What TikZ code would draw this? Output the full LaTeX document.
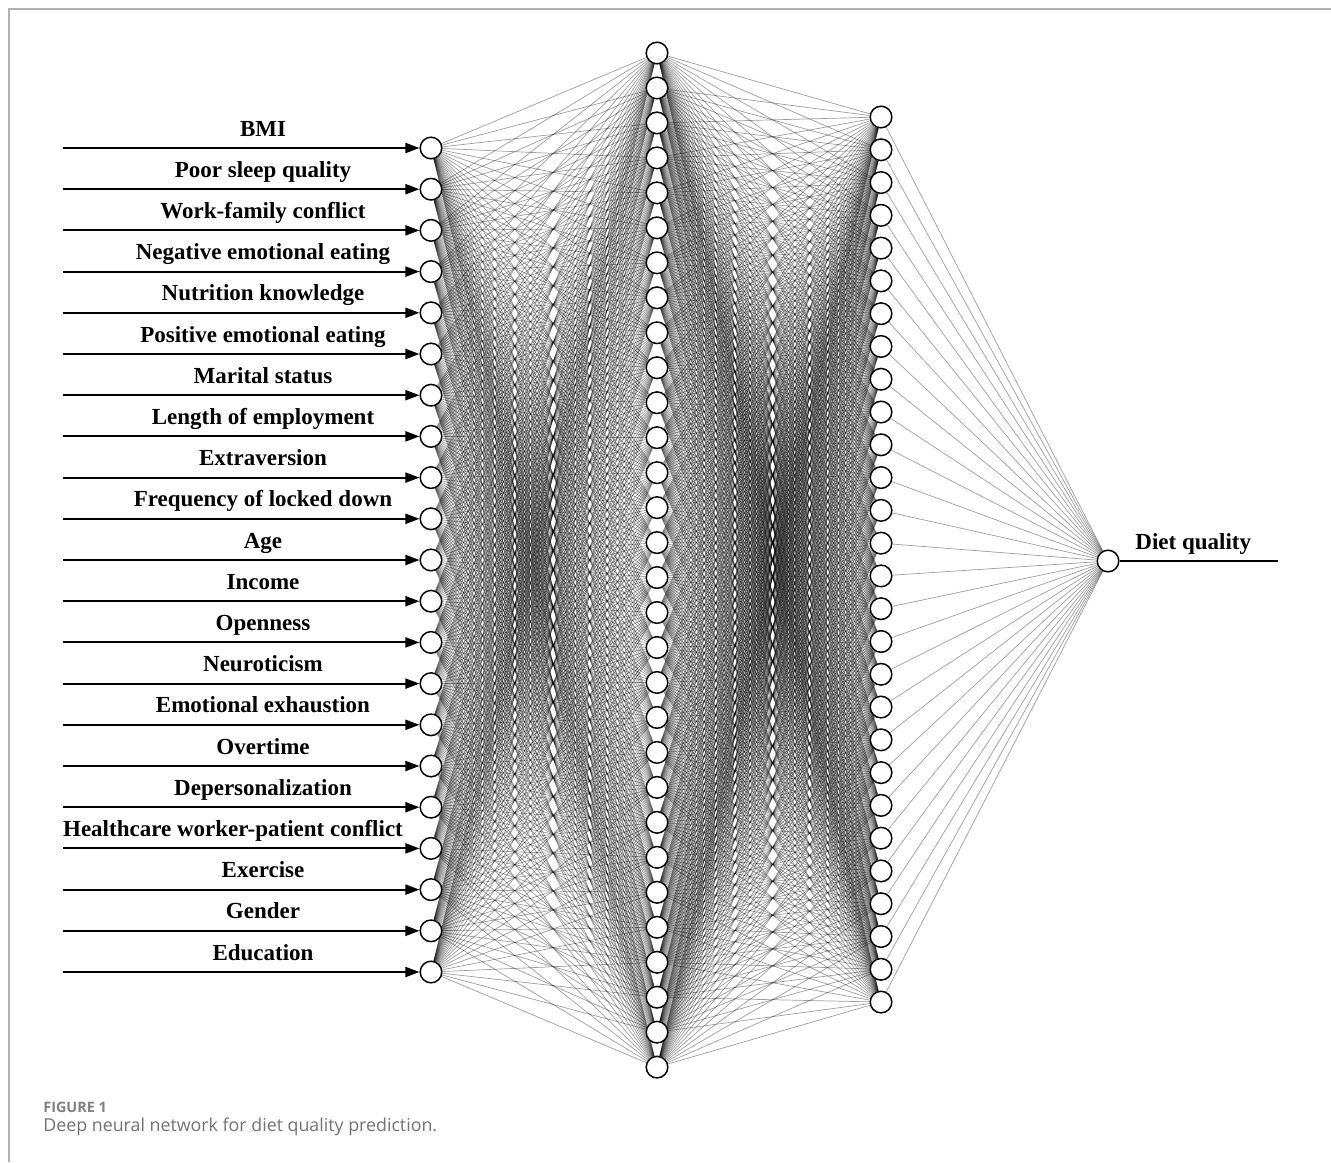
\documentclass[tikz,border=0pt]{standalone}
\usepackage{fontspec}
\setmainfont{Liberation Serif}
\newfontfamily\capfont{Open Sans}
\usetikzlibrary{arrows.meta,backgrounds}

\tikzset{
  unit/.style={circle, draw=black, fill=white, line width=0.75pt, minimum size=10.8pt, inner sep=0pt},
  link/.style={draw=black, line width=0.35pt, opacity=0.38},
  feed/.style={line width=1pt, -{Triangle[length=7pt,width=5pt]}},
  varname/.style={font=\fontsize{11.5}{13}\selectfont\bfseries, anchor=base, inner sep=0pt}
}

\begin{document}
\begin{tikzpicture}[x=0.5pt, y=-0.5pt]
    \useasboundingbox (0,0) rectangle (1331,1162);

    % Frame
    \draw[black!30, line width=1pt] (9,1162) -- (9,9) -- (1331,9);

    % Input layer
    \foreach \n [evaluate=\n as \y using 148+41.2*(\n-1)] in {1,...,21} {
        \node[unit] (i\n) at (431,\y) {};
        \coordinate (s\n) at (63,\y);
    }

    % Hidden layer 1
    \foreach \n [evaluate=\n as \y using 53+34.97*(\n-1)] in {1,...,30}
        \node[unit] (h\n) at (657,\y) {};

    % Hidden layer 2
    \foreach \n [evaluate=\n as \y using 117+32.78*(\n-1)] in {1,...,28}
        \node[unit] (g\n) at (881,\y) {};

    % Output layer
    \node[unit] (out) at (1108,561) {};
    \coordinate (e) at (1278,561);

    % Connections
    \begin{scope}[on background layer]
        \foreach \a in {1,...,21}
            \foreach \b in {1,...,30}
                \draw[link] (i\a) -- (h\b);
        \foreach \a in {1,...,30}
            \foreach \b in {1,...,28}
                \draw[link] (h\a) -- (g\b);
        \foreach \a in {1,...,28}
            \draw[link] (g\a) -- (out);
    \end{scope}

    % Input arrows and labels
    \foreach \lab/\lx [count=\n] in {BMI/263, Poor sleep quality/263,
        Work-family conflict/263, Negative emotional eating/263,
        Nutrition knowledge/263, Positive emotional eating/263,
        Marital status/263, Length of employment/263, Extraversion/263,
        Frequency of locked down/263, Age/263, Income/263, Openness/263,
        Neuroticism/263, Emotional exhaustion/263, Overtime/263,
        Depersonalization/263, Healthcare worker-patient conflict/233,
        Exercise/263, Gender/263, Education/263} {
        \draw[feed] (s\n) -- (i\n.west);
        \node[varname] (l\n) at (\lx,{148+41.2*(\n-1)-12}) {\lab};
    }

    % Output line and label
    \draw[line width=1pt] (out) -- (e);
    \node[varname, anchor=base west] (lout) at (1135,549) {Diet quality};

    % Caption
    \node[anchor=base west, inner sep=0pt, text=black!50, font=\capfont\fontsize{7.2}{8}\selectfont\bfseries] (fig) at (43,1112) {FIGURE 1};
    \node[anchor=base west, inner sep=0pt, text=black!55, font=\capfont\fontsize{8.9}{10}\selectfont] (cap) at (43,1131) {Deep neural network for diet quality prediction.};
\end{tikzpicture}
\end{document}
